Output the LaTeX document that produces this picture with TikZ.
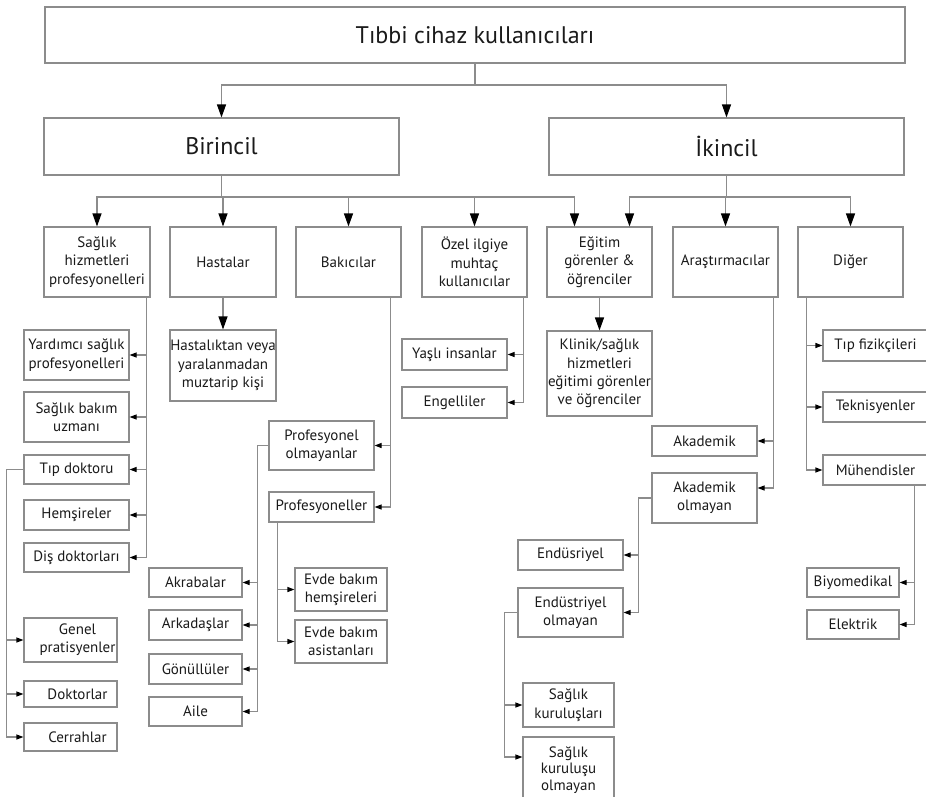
\documentclass[tikz,border=0pt]{standalone}
\usepackage{fontspec}
\setmainfont{PT Sans}
\usetikzlibrary{arrows.meta}
\definecolor{linegray}{HTML}{8C8C8C}
\definecolor{inkdark}{HTML}{1A1A1A}

\tikzset{
  txt/.style={inner sep=0pt, align=center, text=inkdark, font=\fontsize{15}{18.3}\selectfont},
  box/.style={txt, draw=linegray, line width=1.1pt, fill=white},
  headbox/.style={box, font=\fontsize{24}{28}\selectfont},
  link/.style={draw=linegray, line width=1.1pt},
  bigtip/.style={link, -{Triangle[length=13pt,width=9pt,color=black]}},
  smalltip/.style={link, -{Triangle[length=7pt,width=5pt,color=black]}},
}

% \ubox[style]{name}{x1}{y1}{x2}{y2}{text}: box given by its corners (y grows downwards)
\newcommand\ubox[7][box]{%
  \pgfmathsetmacro\ubw{#5-#3}\pgfmathsetmacro\ubh{#6-#4}%
  \node[#1,minimum width=\ubw pt,minimum height=\ubh pt] (#2) at ({(#3+#5)/2},{(#4+#6)/2}) {#7};}

\begin{document}
\begin{tikzpicture}[x=1pt,y=-1pt]
\path[use as bounding box] (0,0) rectangle (926,796);
\clip (0,0) rectangle (926,796);

% levels 1 and 2
\ubox[headbox]{top}{45}{7}{905}{63}{Tıbbi cihaz kullanıcıları}
\ubox[headbox]{bir}{44}{118}{399}{175}{Birincil}
\ubox[headbox]{iki}{549}{118}{904}{175}{İkincil}

% level 3
\ubox{sag}{44}{227}{150}{297}{Sağlık\\hizmetleri\\profesyonelleri}
\ubox{has}{170}{227}{276}{297}{Hastalar}
\ubox{bak}{296}{227}{401}{297}{Bakıcılar}
\ubox{ozel}{422}{227}{527}{297}{Özel ilgiye\\muhtaç\\kullanıcılar}
\ubox{egi}{547}{227}{652}{297}{Eğitim\\görenler \&\\öğrenciler}
\ubox{ars}{673}{227}{778}{297}{Araştırmacılar}
\ubox{dig}{798}{227}{903}{297}{Diğer}

% health care professionals
\ubox{yard}{24}{330}{129}{380}{Yardımcı sağlık\\profesyonelleri}
\ubox{sbu}{24}{392}{129}{442}{Sağlık bakım\\uzmanı}
\ubox{tip}{24}{455}{129}{484}{Tıp doktoru}
\ubox{hem}{24}{500}{129}{530}{Hemşireler}
\ubox{dis}{24}{543}{129}{572}{Diş doktorları}
\ubox{gen}{24}{618}{117}{662}{}
\ubox{dok}{24}{681}{117}{707}{}
\ubox{cer}{24}{723}{117}{751}{}
\node[txt] (gen-t) at ([xshift=7pt]gen.center) {Genel\\pratisyenler};
\node[txt] (dok-t) at ([xshift=7pt]dok.center) {Doktorlar};
\node[txt] (cer-t) at ([xshift=7pt]cer.center) {Cerrahlar};

% patients
\ubox{hst}{170}{330}{276}{401}{Hastalıktan veya\\yaralanmadan\\muztarip kişi}

% caregivers
\ubox{pon}{269}{421}{374}{470}{Profesyonel\\olmayanlar}
\ubox{pro}{269}{492}{374}{522}{Profesyoneller}
\ubox{akr}{149}{568}{242}{597}{Akrabalar}
\ubox{ark}{149}{610}{242}{640}{Arkadaşlar}
\ubox{gon}{149}{654}{242}{684}{Gönüllüler}
\ubox{aile}{149}{697}{242}{726}{Aile}
\ubox{evh}{295}{568}{387}{611}{Evde bakım\\hemşireleri}
\ubox{eva}{295}{620}{387}{663}{Evde bakım\\asistanları}

% special needs users
\ubox{yas}{402}{339}{507}{370}{Yaşlı insanlar}
\ubox{eng}{402}{387}{507}{418}{Engelliler}

% trainees
\ubox{kli}{547}{331}{652}{416}{Klinik/sağlık\\hizmetleri\\eğitimi görenler\\ve öğrenciler}

% researchers
\ubox{aka}{652}{426}{757}{456}{Akademik}
\ubox{ako}{652}{473}{757}{523}{Akademik\\olmayan}
\ubox{endu}{518}{540}{623}{570}{Endüsriyel}
\ubox{eno}{518}{588}{623}{637}{Endüstriyel\\olmayan}
\ubox{sku}{523}{683}{614}{727}{Sağlık\\kuruluşları}
\ubox[box,font=\fontsize{15}{16.5}\selectfont]{sko}{523}{737}{614}{803}{Sağlık\\kuruluşu\\olmayan}

% others
\ubox{tfz}{823}{330}{928}{361}{Tıp fizikçileri}
\ubox{tek}{823}{392}{928}{422}{Teknisyenler}
\ubox{muh}{823}{455}{928}{485}{Mühendisler}
\ubox{biy}{807}{568}{899}{597}{Biyomedikal}
\ubox{ele}{807}{610}{899}{639}{Elektrik}

% connectors: top levels
\coordinate (j0) at (475,85);
\draw[link] (top.south) -- (j0);
\draw[bigtip] (j0) -| (bir.north);
\draw[bigtip] (j0) -| (iki.north);

\coordinate (j1) at (221.5,197);
\draw[link] (bir.south) -- (j1);
\foreach \t in {sag,has,bak,ozel} \draw[bigtip] (j1) -| (\t.north);
\draw[bigtip] (j1) -| ([xshift=-25pt]egi.north);

\coordinate (j2) at (726.5,197);
\draw[link] (iki.south) -- (j2);
\draw[bigtip] (j2) -| ([xshift=30pt]egi.north);
\draw[bigtip] (j2) -| (ars.north);
\draw[bigtip] (j2) -| (dig.north);

\draw[bigtip] (has.south) -- (hst.north);
\draw[bigtip] (egi.south) -- (kli.north);

% connectors: side branches
\foreach \t in {yard,sbu,tip,hem,dis}
  \draw[smalltip] ([xshift=-4pt]sag.south east) |- (\t.east);
\foreach \t in {gen,dok,cer}
  \draw[smalltip] (tip.west) -- ++(-17,0) |- (\t.west);
\foreach \t in {pon,pro}
  \draw[smalltip] ([xshift=-11pt]bak.south east) |- (\t.east);
\foreach \t in {akr,ark,gon,aile}
  \draw[smalltip] (pon.west) -- ++(-11,0) |- (\t.east);
\foreach \t in {evh,eva}
  \draw[smalltip] ([xshift=9pt]pro.south west) |- (\t.west);
\foreach \t in {yas,eng}
  \draw[smalltip] ([xshift=-4pt]ozel.south east) |- (\t.east);
\draw[smalltip] ([xshift=-5pt]ars.south east) |- (aka.east);
\draw[smalltip] ([xshift=-5pt]ars.south east) |- ([yshift=10pt]ako.east);
\foreach \t in {endu,eno}
  \draw[smalltip] (ako.west) -- ++(-13,0) |- (\t.east);
\draw[smalltip] (eno.west) -- ++(-13,0) |- (sku.west);
\draw[smalltip] (eno.west) -- ++(-13,0) |- ([yshift=13pt]sko.west);
\foreach \t in {tfz,tek,muh}
  \draw[smalltip] ([xshift=9pt]dig.south west) |- (\t.west);
\foreach \t in {biy,ele}
  \draw[smalltip] ([xshift=92pt]muh.south west) |- (\t.east);
\end{tikzpicture}
\end{document}
